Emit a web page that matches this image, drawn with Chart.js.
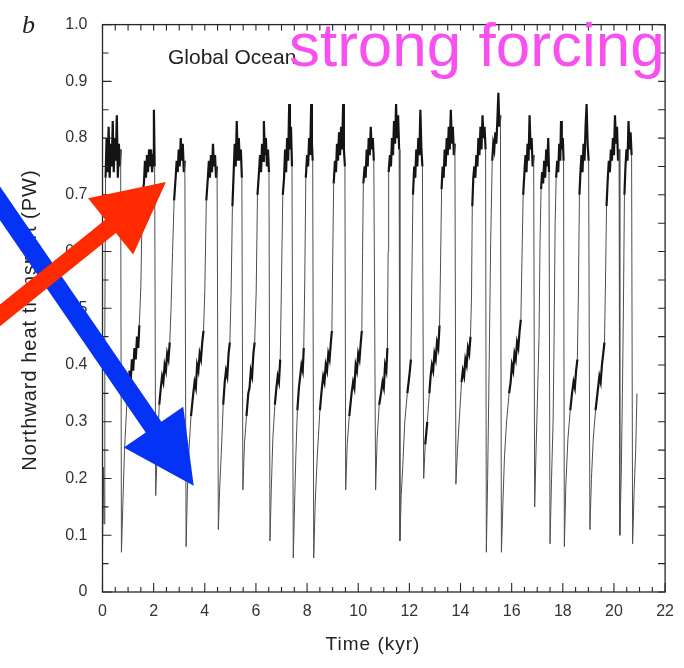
<!DOCTYPE html>
<html>
<head>
<meta charset="utf-8">
<script src="https://cdn.jsdelivr.net/npm/chart.js@4.4.1/dist/chart.umd.min.js"></script>
<style>
  html, body { margin: 0; padding: 0; background: #fff; }
  #wrap { width: 684px; height: 668px; }
</style>
</head>
<body>
<div id="wrap"><canvas id="heatChart" width="684" height="668"></canvas></div>
<script>
// time (kyr) and northward heat transport (PW), one line per cycle
const timeKyr = [
  0.00, 0.03, 0.06, 0.09, 0.12, 0.16, 0.20, 0.24, 0.28, 0.32, 0.36, 0.40, 0.44, 0.48, 0.52, 0.56, 0.60, 0.64, 0.68, 0.71,
  0.74, 0.80, 0.86, 0.95, 1.05, 1.10, 1.15, 1.20, 1.25, 1.30, 1.35, 1.40, 1.44, 1.50, 1.56, 1.62, 1.66, 1.70, 1.74, 1.78, 1.82, 1.86, 1.90, 1.94, 1.98, 2.01, 2.04,
  2.08, 2.15, 2.22, 2.28, 2.33, 2.38, 2.43, 2.48, 2.53, 2.58, 2.63, 2.68, 2.74, 2.80, 2.86, 2.90, 2.94, 2.98, 3.02, 3.06, 3.10, 3.14, 3.18, 3.22,
  3.27, 3.32, 3.38, 3.46, 3.55, 3.60, 3.65, 3.70, 3.75, 3.80, 3.85, 3.90, 3.95, 4.00, 4.06, 4.12, 4.16, 4.20, 4.24, 4.28, 4.32, 4.36, 4.40, 4.44, 4.48,
  4.53, 4.58, 4.65, 4.72, 4.78, 4.83, 4.88, 4.93, 4.98, 5.03, 5.08, 5.13, 5.17, 5.21, 5.25, 5.29, 5.33, 5.37, 5.41, 5.45,
  5.49, 5.55, 5.63, 5.70, 5.75, 5.80, 5.85, 5.90, 5.95, 6.01, 6.06, 6.12, 6.16, 6.20, 6.24, 6.28, 6.31, 6.35, 6.39, 6.43, 6.47, 6.51,
  6.55, 6.60, 6.66, 6.74, 6.80, 6.85, 6.90, 6.95, 7.00, 7.05, 7.10, 7.14, 7.18, 7.22, 7.26, 7.30, 7.33, 7.37, 7.41,
  7.46, 7.52, 7.56, 7.62, 7.68, 7.73, 7.78, 7.83, 7.87, 7.91, 7.95, 8.00, 8.04, 8.08, 8.12, 8.16, 8.19, 8.22,
  8.26, 8.32, 8.40, 8.50, 8.58, 8.63, 8.68, 8.73, 8.78, 8.83, 8.88, 8.93, 8.97, 9.00, 9.04, 9.09, 9.13, 9.17, 9.21, 9.25, 9.29, 9.33, 9.37, 9.41, 9.44, 9.48,
  9.51, 9.57, 9.65, 9.74, 9.80, 9.85, 9.90, 9.95, 10.00, 10.05, 10.10, 10.14, 10.17, 10.20, 10.25, 10.29, 10.33, 10.37, 10.41, 10.45, 10.49, 10.53, 10.57, 10.61,
  10.68, 10.74, 10.82, 10.89, 10.95, 11.00, 11.05, 11.10, 11.14, 11.17, 11.19, 11.24, 11.28, 11.32, 11.36, 11.40, 11.44, 11.48, 11.52, 11.56, 11.60,
  11.63, 11.68, 11.74, 11.82, 11.92, 11.97, 12.02, 12.06, 12.09, 12.14, 12.19, 12.23, 12.27, 12.31, 12.35, 12.39, 12.43, 12.47, 12.51,
  12.56, 12.62, 12.70, 12.78, 12.83, 12.88, 12.93, 12.98, 13.03, 13.08, 13.13, 13.18, 13.22, 13.26, 13.30, 13.34, 13.38, 13.42, 13.46, 13.50, 13.54, 13.58, 13.62, 13.66, 13.70, 13.74, 13.78,
  13.82, 13.88, 13.96, 14.04, 14.09, 14.14, 14.19, 14.24, 14.29, 14.34, 14.39, 14.43, 14.46, 14.50, 14.54, 14.58, 14.62, 14.66, 14.70, 14.74, 14.78, 14.82, 14.86, 14.90, 14.94, 14.98,
  15.01, 15.06, 15.12, 15.18, 15.24, 15.28, 15.32, 15.36, 15.40, 15.44, 15.48, 15.52, 15.56,
  15.60, 15.66, 15.72, 15.80, 15.90, 15.96, 16.01, 16.06, 16.11, 16.16, 16.21, 16.26, 16.31, 16.36, 16.40, 16.45, 16.50, 16.54, 16.58, 16.62, 16.66, 16.70, 16.74, 16.78, 16.82, 16.86,
  16.90, 16.96, 17.02, 17.07, 17.11, 17.15, 17.19, 17.23, 17.27, 17.31, 17.35, 17.39, 17.43, 17.46,
  17.50, 17.56, 17.62, 17.66, 17.70, 17.74, 17.78, 17.82, 17.86, 17.90, 17.93, 17.96, 18.00, 18.03,
  18.06, 18.12, 18.20, 18.29, 18.36, 18.42, 18.47, 18.52, 18.57, 18.61, 18.65, 18.69, 18.73, 18.77, 18.81, 18.85, 18.89, 18.93, 18.97, 19.01,
  19.06, 19.12, 19.19, 19.28, 19.38, 19.43, 19.48, 19.53, 19.58, 19.63, 19.67, 19.71, 19.76, 19.80, 19.84, 19.88, 19.92, 19.96, 20.00, 20.04, 20.08, 20.12, 20.16, 20.20,
  20.23, 20.29, 20.33, 20.37, 20.41, 20.45, 20.49, 20.53, 20.57, 20.61, 20.65, 20.69,
  20.73, 20.79, 20.85, 20.90
];
const heatPW = [
  0.07, 0.22, 0.12, 0.45, 0.73, 0.80, 0.74, 0.82, 0.73, 0.79, 0.75, 0.83, 0.74, 0.80, 0.76, 0.84, 0.73, 0.79, 0.75, 0.78,
  0.07, 0.16, 0.25, 0.33, 0.39, 0.37, 0.41, 0.39, 0.43, 0.41, 0.45, 0.43, 0.47, 0.54, 0.70, 0.72, 0.76, 0.73, 0.77, 0.74, 0.78, 0.75, 0.78, 0.74, 0.77, 0.85, 0.75,
  0.17, 0.26, 0.33, 0.36, 0.38, 0.37, 0.40, 0.39, 0.42, 0.41, 0.44, 0.50, 0.60, 0.69, 0.73, 0.76, 0.74, 0.78, 0.75, 0.80, 0.76, 0.79, 0.74, 0.76,
  0.08, 0.18, 0.25, 0.31, 0.35, 0.37, 0.36, 0.40, 0.39, 0.42, 0.41, 0.44, 0.46, 0.53, 0.69, 0.73, 0.76, 0.73, 0.77, 0.74, 0.79, 0.75, 0.77, 0.73, 0.75,
  0.11, 0.18, 0.25, 0.33, 0.37, 0.39, 0.38, 0.42, 0.44, 0.53, 0.68, 0.74, 0.79, 0.75, 0.83, 0.76, 0.80, 0.76, 0.78, 0.73,
  0.18, 0.26, 0.31, 0.35, 0.36, 0.39, 0.38, 0.42, 0.44, 0.53, 0.70, 0.74, 0.77, 0.74, 0.79, 0.76, 0.83, 0.77, 0.80, 0.75, 0.78, 0.74,
  0.09, 0.18, 0.27, 0.33, 0.36, 0.38, 0.37, 0.41, 0.55, 0.70, 0.73, 0.78, 0.74, 0.80, 0.76, 0.86, 0.78, 0.82, 0.75,
  0.06, 0.17, 0.24, 0.32, 0.36, 0.38, 0.40, 0.39, 0.43, 0.55, 0.73, 0.77, 0.75, 0.80, 0.77, 0.86, 0.79, 0.76,
  0.06, 0.16, 0.24, 0.32, 0.36, 0.38, 0.37, 0.40, 0.39, 0.42, 0.41, 0.44, 0.46, 0.58, 0.72, 0.76, 0.74, 0.79, 0.76, 0.81, 0.77, 0.82, 0.78, 0.86, 0.78, 0.75,
  0.18, 0.26, 0.31, 0.35, 0.37, 0.36, 0.40, 0.39, 0.42, 0.41, 0.44, 0.46, 0.60, 0.72, 0.75, 0.73, 0.78, 0.75, 0.80, 0.77, 0.82, 0.78, 0.80, 0.76,
  0.18, 0.27, 0.33, 0.35, 0.37, 0.36, 0.40, 0.39, 0.43, 0.60, 0.74, 0.77, 0.75, 0.80, 0.77, 0.83, 0.79, 0.86, 0.80, 0.84, 0.78,
  0.09, 0.17, 0.22, 0.30, 0.35, 0.37, 0.39, 0.41, 0.53, 0.70, 0.75, 0.73, 0.78, 0.75, 0.80, 0.77, 0.85, 0.78, 0.75,
  0.20, 0.26, 0.30, 0.35, 0.38, 0.40, 0.39, 0.42, 0.41, 0.44, 0.43, 0.47, 0.58, 0.71, 0.75, 0.73, 0.78, 0.75, 0.80, 0.77, 0.82, 0.78, 0.85, 0.79, 0.82, 0.77, 0.79,
  0.19, 0.25, 0.31, 0.37, 0.39, 0.38, 0.41, 0.40, 0.43, 0.42, 0.45, 0.52, 0.68, 0.73, 0.75, 0.73, 0.77, 0.75, 0.80, 0.77, 0.82, 0.78, 0.84, 0.80, 0.82, 0.78,
  0.07, 0.20, 0.40, 0.62, 0.76, 0.79, 0.78, 0.81, 0.79, 0.83, 0.88, 0.82, 0.84,
  0.07, 0.16, 0.24, 0.30, 0.35, 0.37, 0.40, 0.39, 0.42, 0.41, 0.44, 0.43, 0.46, 0.48, 0.58, 0.70, 0.74, 0.77, 0.74, 0.79, 0.76, 0.84, 0.78, 0.80, 0.75, 0.77,
  0.15, 0.26, 0.36, 0.45, 0.62, 0.71, 0.74, 0.72, 0.76, 0.73, 0.78, 0.75, 0.80, 0.74,
  0.085, 0.20, 0.30, 0.45, 0.65, 0.73, 0.76, 0.74, 0.79, 0.76, 0.83, 0.78, 0.80, 0.76,
  0.08, 0.19, 0.27, 0.32, 0.35, 0.37, 0.36, 0.39, 0.41, 0.53, 0.70, 0.74, 0.77, 0.74, 0.79, 0.76, 0.82, 0.86, 0.79, 0.76,
  0.11, 0.20, 0.27, 0.32, 0.36, 0.38, 0.37, 0.40, 0.42, 0.44, 0.55, 0.68, 0.73, 0.76, 0.74, 0.78, 0.76, 0.80, 0.77, 0.84, 0.79, 0.82, 0.76, 0.78,
  0.10, 0.22, 0.35, 0.50, 0.70, 0.75, 0.78, 0.76, 0.83, 0.78, 0.81, 0.77,
  0.085, 0.18, 0.25, 0.35
];
const xTickLabels = ['0', '2', '4', '6', '8', '10', '12', '14', '16', '18', '20', '22'];
const yTickLabels = ['0', '0.1', '0.2', '0.3', '0.4', '0.5', '0.6', '0.7', '0.8', '0.9', '1.0'];

if (timeKyr.length !== heatPW.length) {
  throw new Error('length mismatch ' + timeKyr.length + ' vs ' + heatPW.length);
}

const series = timeKyr.map((t, i) => ({ x: t, y: heatPW[i] }));

const inkColor = '#262626';
const labelFont = '"Liberation Sans", Arial, Helvetica, sans-serif';

// arrows given in axis units (kyr, PW) so they go through the scales
const redArrow = { from: [-4.34, 0.4755], to: [2.48, 0.7228], color: '#ff2a00', shaft: 17 };
const blueArrow = { from: [-4.34, 0.7067], to: [3.567, 0.1874], color: '#0433f6', shaft: 19 };

// the noisy stretches (small wiggles, or anything on the upper plateau) are drawn dark and heavy,
// the long rises and drops thin and grey
const isNoisy = (c) => {
  const y0 = c.p0.parsed.y, y1 = c.p1.parsed.y, dy = Math.abs(y1 - y0);
  return dy <= 0.045 || (Math.min(y0, y1) >= 0.68 && dy <= 0.12);
};

const drawArrow = (ctx, xs, ys, arrow) => {
  const x0 = xs.getPixelForValue(arrow.from[0]), y0 = ys.getPixelForValue(arrow.from[1]);
  const x1 = xs.getPixelForValue(arrow.to[0]), y1 = ys.getPixelForValue(arrow.to[1]);
  const len = Math.hypot(x1 - x0, y1 - y0);
  const ux = (x1 - x0) / len, uy = (y1 - y0) / len;
  const nx = -uy, ny = ux;
  const headLen = 71, headHalf = 36, half = arrow.shaft / 2;
  const bx = x1 - ux * headLen, by = y1 - uy * headLen;
  ctx.beginPath();
  ctx.moveTo(x0 + nx * half, y0 + ny * half);
  ctx.lineTo(bx + nx * half, by + ny * half);
  ctx.lineTo(bx + nx * headHalf, by + ny * headHalf);
  ctx.lineTo(x1, y1);
  ctx.lineTo(bx - nx * headHalf, by - ny * headHalf);
  ctx.lineTo(bx - nx * half, by - ny * half);
  ctx.lineTo(x0 - nx * half, y0 - ny * half);
  ctx.closePath();
  ctx.fillStyle = arrow.color;
  ctx.fill();
};

const figureExtras = {
  id: 'figureExtras',
  afterDatasetsDraw(chart) {
    const ctx = chart.ctx, a = chart.chartArea;
    const xs = chart.scales.x, ys = chart.scales.y;
    ctx.save();
    ctx.strokeStyle = inkColor;
    ctx.lineWidth = 1.3;
    ctx.strokeRect(a.left, a.top, a.right - a.left, a.bottom - a.top);
    ctx.lineWidth = 1.1;
    ctx.beginPath();
    // inward ticks every 0.5 kyr, longer on the labelled ones
    for (let i = 0; i <= 44; i++) {
      const px = xs.getPixelForValue(i / 2);
      const len = i % 4 === 0 ? 9 : 5;
      ctx.moveTo(px, a.bottom); ctx.lineTo(px, a.bottom - len);
      ctx.moveTo(px, a.top); ctx.lineTo(px, a.top + 6);
    }
    for (let i = 0; i <= 20; i++) {
      const py = ys.getPixelForValue(i / 20);
      const len = i % 2 === 0 ? 9 : 6;
      ctx.moveTo(a.left, py); ctx.lineTo(a.left + len, py);
      ctx.moveTo(a.right, py); ctx.lineTo(a.right - 7, py);
    }
    ctx.stroke();
    ctx.restore();
  },
  afterDraw(chart) {
    const ctx = chart.ctx;
    const xs = chart.scales.x, ys = chart.scales.y;
    ctx.save();
    ctx.fillStyle = '#222';
    ctx.textBaseline = 'alphabetic';

    // panel letter
    ctx.font = 'italic 26px "Liberation Serif", "Times New Roman", serif';
    ctx.textAlign = 'left';
    ctx.fillText('b', 22, 33);

    // axis titles
    ctx.font = '19px ' + labelFont;
    ctx.letterSpacing = '1px';
    ctx.textAlign = 'center';
    ctx.fillText('Time (kyr)', 373, 650);
    ctx.save();
    ctx.font = '20px ' + labelFont;
    ctx.translate(36, 320);
    ctx.rotate(-Math.PI / 2);
    ctx.fillText('Northward heat transport (PW)', 0, 0);
    ctx.restore();

    ctx.letterSpacing = '0px';
    ctx.textAlign = 'left';
    ctx.font = '21px ' + labelFont;
    ctx.fillText('Global Ocean', 168, 64);

    ctx.fillStyle = '#f84ff0';
    ctx.font = '62px ' + labelFont;
    ctx.fillText('strong forcing', 289, 66);

    drawArrow(ctx, xs, ys, blueArrow);
    drawArrow(ctx, xs, ys, redArrow);
    ctx.restore();
  }
};

const ctx = document.getElementById('heatChart');
new Chart(ctx, {
  type: 'line',
  data: {
    datasets: [{
      label: 'Global Ocean',
      data: series,
      borderColor: inkColor,
      borderWidth: 1.2,
      pointRadius: 0,
      tension: 0,
      fill: false,
      segment: {
        borderWidth: (c) => isNoisy(c) ? 2.2 : 1,
        borderColor: (c) => isNoisy(c) ? '#141414' : '#4d4d4d'
      }
    }]
  },
  options: {
    responsive: false,
    animation: false,
    layout: { padding: { top: 21, right: 10.5, left: 0, bottom: 0 } },
    plugins: { legend: { display: false }, tooltip: { enabled: false } },
    scales: {
      x: {
        type: 'linear',
        min: 0,
        max: 22,
        grid: { display: false, drawTicks: false },
        border: { display: false },
        afterFit: (s) => { s.height = 76; },
        ticks: {
          stepSize: 2,
          padding: 10,
          color: '#333',
          font: { family: labelFont, size: 16 },
          callback: (v, i) => xTickLabels[i]
        }
      },
      y: {
        min: 0,
        max: 1,
        grid: { display: false, drawTicks: false },
        border: { display: false },
        afterFit: (s) => { s.width = 102.5; },
        ticks: {
          stepSize: 0.1,
          padding: 15,
          color: '#333',
          font: { family: labelFont, size: 16 },
          callback: (v, i) => yTickLabels[i]
        }
      }
    }
  },
  plugins: [figureExtras]
});
</script>
</body>
</html>
